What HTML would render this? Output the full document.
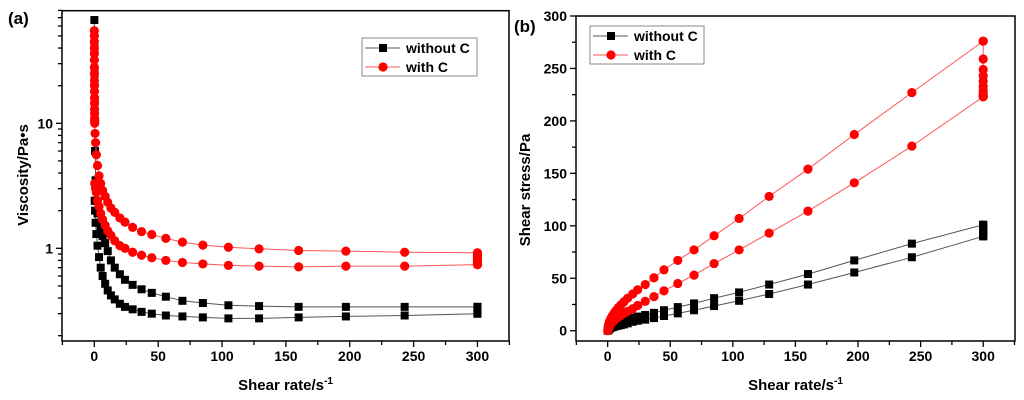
<!DOCTYPE html>
<html><head><meta charset="utf-8">
<style>
html,body{margin:0;padding:0;background:#fff;}
svg{display:block;font-family:"Liberation Sans",Arial,sans-serif;font-weight:bold;}
</style></head>
<body>
<svg id="root" width="1024" height="400" viewBox="0 0 1024 400">
  <g id="chartA"></g>
  <g id="chartB"></g>
</svg>
<script>
// shared shear rates (s^-1)
const rates = [0.3,0.6,1,1.6,2.5,3.7,5,6.5,8.5,10.5,13,16,20,24,30,37,45,56,69,85,105,129,160,197,243,300];
// viscosity (Pa·s)
const viscRedUp = [10,8.3,7,5.6,4.6,3.8,3.3,2.9,2.6,2.33,2.1,1.94,1.75,1.62,1.47,1.36,1.29,1.2,1.12,1.06,1.02,0.99,0.96,0.95,0.93,0.92];
const viscRedDown = [3.3,3.3,3,2.8,2.4,2.16,1.9,1.7,1.53,1.38,1.27,1.15,1.05,1.0,0.93,0.88,0.84,0.8,0.77,0.75,0.73,0.72,0.71,0.72,0.72,0.74];
const viscRedStartRates = [0.01,0.02,0.03,0.04,0.05,0.06,0.07,0.08,0.1,0.12,0.14,0.16,0.18,0.2,0.22,0.25,0.28];
const viscRedStart = [55,50,45,40,36,32,28,25,22,20,18,16,14.5,13,12,11,10.5];
const viscRedHold = [0.92,0.9,0.88,0.86,0.84,0.82,0.8,0.78,0.76,0.74];
const viscBlackUp = [15,6,3.5,2.4,1.9,1.6,1.4,1.25,1.1,0.95,0.8,0.7,0.62,0.56,0.51,0.47,0.44,0.41,0.38,0.365,0.35,0.345,0.34,0.34,0.34,0.34];
const viscBlackDown = [2.4,2,1.6,1.3,1.05,0.85,0.7,0.6,0.52,0.46,0.42,0.39,0.36,0.34,0.325,0.31,0.3,0.29,0.285,0.28,0.275,0.275,0.28,0.285,0.29,0.3];
const viscBlackStartRates = [0.02,0.1,0.2];
const viscBlackStart = [67,40,25];
const viscBlackHold = [0.34,0.33,0.32,0.31,0.3];
// shear stress (Pa)
const stressRedUp = [3,5,7,9,11.5,14,16.5,19,22,24.5,27.5,31,35,39,44,50.5,58,67,77,90.5,107,128,154,187,227,276];
const stressRedDown = [1,2,3,4.5,6,8,9.5,11,13,14.5,16.5,18.5,21,24,28,32.5,38,45,53,64,77,93,114,141,176,223];
const stressRedHold = [276,259,249,243,238,233,229,226,224,223];
const stressBlackUp = [1,1.8,2.5,3.5,4.5,5.5,6.5,7.5,8.5,9.5,10.5,11.5,12.5,13.5,15,17,19.5,22.5,26,31,36.5,44,54,67,83,101];
const stressBlackDown = [0.5,1,1.5,2,2.8,3.3,3.8,4.3,4.8,5.3,6,7,8.5,9.5,10.5,12,14,16.5,19.5,23.5,28.5,35,44,55.5,70,90];
const stressBlackHold = [101,99,97,95,93,91,90];
const xTicks = [0,50,100,150,200,250,300];
const yTicksB = [0,50,100,150,200,250,300];
const yTicksA = [1,10];

const NS="http://www.w3.org/2000/svg";
function mk(parent,tag,attrs,text){const e=document.createElementNS(NS,tag);for(const k in attrs)e.setAttribute(k,attrs[k]);if(text!==undefined)e.textContent=text;parent.appendChild(e);return e;}

function drawSeries(g,xs,ys,sx,sy,color,shape,name){
  const sg=mk(g,'g',{});
  
  
  let d='';xs.forEach((x,i)=>{d+=(i?'L':'M')+sx(x).toFixed(1)+','+sy(ys[i]).toFixed(1);});
  const p=mk(sg,'path',{d:d,fill:'none',stroke:color==='#000'?'#555':'#f55','stroke-width':1});
  
  
  xs.forEach((x,i)=>{
    const cx=sx(x),cy=sy(ys[i]);let m;
    if(shape==='sq')m=mk(sg,'rect',{x:cx-4,y:cy-4,width:8,height:8,fill:color});
    else m=mk(sg,'circle',{cx:cx,cy:cy,r:4.6,fill:color});
    
    
  });
}
function concatSeries(startR,startV,up,hold,down){
  const xs=[],ys=[];
  startR.forEach((r,i)=>{xs.push(r);ys.push(startV[i]);});
  rates.forEach((r,i)=>{xs.push(r);ys.push(up[i]);});
  hold.forEach(v=>{xs.push(300);ys.push(v);});
  for(let i=rates.length-1;i>=0;i--){xs.push(rates[i]);ys.push(down[i]);}
  return [xs,ys];
}
function legend(g,x,y,w){
  const lg=mk(g,'g',{});
  
  
  mk(lg,'rect',{x:x,y:y,width:w,height:38,fill:'#fff',stroke:'#888','stroke-width':1});
  const e1=mk(lg,'g',{});
  
  
  mk(e1,'line',{x1:x+3,x2:x+38,y1:y+10,y2:y+10,stroke:'#555'});
  mk(e1,'rect',{x:x+17,y:y+6,width:8,height:8,fill:'#000'});
  mk(e1,'text',{x:x+44,y:y+15,'font-size':14},'without C');
  const e2=mk(lg,'g',{});
  
  
  mk(e2,'line',{x1:x+3,x2:x+38,y1:y+29,y2:y+29,stroke:'#f55'});
  mk(e2,'circle',{cx:x+21,cy:y+29,r:4.6,fill:'#f00'});
  mk(e2,'text',{x:x+44,y:y+34,'font-size':14},'with C');
}

// ---------- Chart A ----------
(function(){
  const g=document.getElementById('chartA');
  const L=62,R=509,T=10.7,B=341;
  const sx=v=>L+(v+25.3)*(R-L)/350;
  const sy=v=>248.3-Math.log10(v)*125;
  const frame=mk(g,'rect',{x:L,y:T,width:R-L,height:B-T,fill:'none',stroke:'#000','stroke-width':1.5});
  
  
  const ax=mk(g,'g',{});
  
  
  for(let v=-25;v<=325;v+=25){const x=sx(v);const maj=(v%50===0);mk(ax,'line',{x1:x,x2:x,y1:B,y2:B+(maj?6:4),stroke:'#000','stroke-width':1.3});}
  xTicks.forEach(v=>mk(ax,'text',{x:sx(v),y:B+20,'font-size':14,'text-anchor':'middle'},String(v)));
  const ay=mk(g,'g',{});
  
  
  [0.2,0.3,0.4,0.5,0.6,0.7,0.8,0.9,1,2,3,4,5,6,7,8,9,10,20,30,40,50,60,70,80].forEach(v=>{
    const y=sy(v);if(y<T-0.5)return;const maj=(v===1||v===10);
    mk(ay,'line',{x1:L,x2:L-(maj?6:4),y1:y,y2:y,stroke:'#000','stroke-width':1.3});
  });
  yTicksA.forEach(v=>mk(ay,'text',{x:L-9,y:sy(v)+5,'font-size':14,'text-anchor':'end'},String(v)));
  const xt=mk(g,'text',{x:(L+R)/2,y:390,'font-size':15,'text-anchor':'middle'});
  xt.innerHTML='Shear rate/s<tspan dy="-6" font-size="10">-1</tspan>';
  
  
  const yt=mk(g,'text',{x:0,y:0,'font-size':15,'text-anchor':'middle',transform:'translate(28,175) rotate(-90)'},'Viscosity/Pa•s');
  
  
  const pl=mk(g,'text',{x:8,y:24,'font-size':17},'(a)');
  
  
  let s=concatSeries(viscBlackStartRates,viscBlackStart,viscBlackUp,viscBlackHold,viscBlackDown);
  drawSeries(g,s[0],s[1],sx,sy,'#000','sq','viscosity-without-c');
  s=concatSeries(viscRedStartRates,viscRedStart,viscRedUp,viscRedHold,viscRedDown);
  drawSeries(g,s[0],s[1],sx,sy,'#f00','ci','viscosity-with-c');
  legend(g,362,38,115);
})();

// ---------- Chart B ----------
(function(){
  const g=document.getElementById('chartB');
  const L=576,R=1015,T=16,B=341;
  const sx=v=>L+(v+25.3)*(R-L)/350.7;
  const sy=v=>330.7-v*(330.7-16)/300;
  const frame=mk(g,'rect',{x:L,y:T,width:R-L,height:B-T,fill:'none',stroke:'#000','stroke-width':1.5});
  
  
  const ax=mk(g,'g',{});
  
  
  for(let v=-25;v<=325;v+=25){const x=sx(v);const maj=(v%50===0);mk(ax,'line',{x1:x,x2:x,y1:B,y2:B+(maj?6:4),stroke:'#000','stroke-width':1.3});}
  xTicks.forEach(v=>mk(ax,'text',{x:sx(v),y:B+20,'font-size':14,'text-anchor':'middle'},String(v)));
  const ay=mk(g,'g',{});
  
  
  for(let v=0;v<=300;v+=25){const y=sy(v);const maj=(v%50===0);mk(ay,'line',{x1:L,x2:L-(maj?6:4),y1:y,y2:y,stroke:'#000','stroke-width':1.3});}
  yTicksB.forEach(v=>mk(ay,'text',{x:L-9,y:sy(v)+5,'font-size':14,'text-anchor':'end'},String(v)));
  const xt=mk(g,'text',{x:(L+R)/2,y:390,'font-size':15,'text-anchor':'middle'});
  xt.innerHTML='Shear rate/s<tspan dy="-6" font-size="10">-1</tspan>';
  
  
  const yt=mk(g,'text',{x:0,y:0,'font-size':15,'text-anchor':'middle',transform:'translate(530,190) rotate(-90)'},'Shear stress/Pa');
  
  
  const pl=mk(g,'text',{x:514,y:32,'font-size':17},'(b)');
  
  
  let s=concatSeries([0],[0],stressBlackUp,stressBlackHold,stressBlackDown);
  drawSeries(g,s[0],s[1],sx,sy,'#000','sq','stress-without-c');
  s=concatSeries([0],[0],stressRedUp,stressRedHold,stressRedDown);
  drawSeries(g,s[0],s[1],sx,sy,'#f00','ci','stress-with-c');
  legend(g,590,26,114);
})();
</script>
</body></html>
